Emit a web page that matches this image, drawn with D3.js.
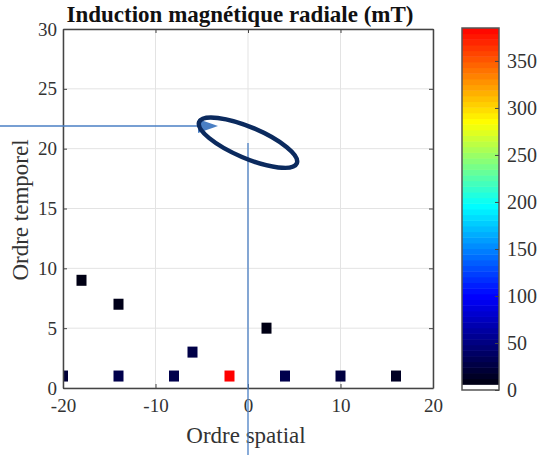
<!DOCTYPE html>
<html><head><meta charset="utf-8">
<script src="https://cdn.jsdelivr.net/npm/d3@7"></script>
<style>body{margin:0;background:#fff}svg{display:block}text{font-family:"Liberation Serif","Times New Roman",serif}</style>
</head><body>
<svg id="c" width="539" height="455"></svg>
<script>
// ---- data ----
const spatialOrder = [-20, -14, -8, -2, 4, 10, 16, -18, -14, -6, 2];
const temporalOrder = [1, 1, 1, 1, 1, 1, 1, 9, 7, 3, 5];
const inductionMT = [22, 30, 30, 385, 30, 25, 14, 8, 10, 28, 8];
const xTicks = [-20, -10, 0, 10, 20];
const yTicks = [0, 5, 10, 15, 20, 25, 30];
const cbTicks = [0, 50, 100, 150, 200, 250, 300, 350];
const cbMax = 385;
const cmapStops = [0, 0.26, 0.51, 0.74, 1];
const cmapColors = ["#000000", "#0000ff", "#00ffff", "#ffff00", "#ff0000"];

const svg = d3.select("#c");
const L = 63, R = 433, T = 29, B = 388;
const x = d3.scaleLinear().domain([-20, 20]).range([L, R]);
const y = d3.scaleLinear().domain([0, 30]).range([B, T]);
const cmap = d3.scaleLinear().domain(cmapStops).range(cmapColors).interpolate(d3.interpolateRgb);
const color = v => cmap(Math.min(1, v / cbMax));

// grid
const g = svg.append("g");
g.selectAll(".gx").data(xTicks).join("line").attr("x1", d => x(d)).attr("x2", d => x(d))
  .attr("y1", T).attr("y2", B).attr("stroke", "#e3e3e3").attr("stroke-width", 1);
g.selectAll(".gy").data(yTicks).join("line").attr("y1", d => y(d)).attr("y2", d => y(d))
  .attr("x1", L).attr("x2", R).attr("stroke", "#e3e3e3").attr("stroke-width", 1);

// squares
svg.append("clipPath").attr("id", "pc").append("rect").attr("x", L).attr("y", T).attr("width", R - L).attr("height", B - T);
svg.append("g").attr("clip-path", "url(#pc)").selectAll("rect").data(spatialOrder.map((s, i) => ({s, t: temporalOrder[i], v: inductionMT[i]})))
  .join("rect").attr("x", d => x(d.s) - 5).attr("y", d => y(d.t) - 5.5).attr("width", 10).attr("height", 11)
  .attr("fill", d => color(d.v));

// axes
const fs = 19;
const axB = svg.append("g").attr("transform", `translate(0,${B})`).call(d3.axisBottom(x).tickValues(xTicks).tickSizeInner(-4).tickSizeOuter(0).tickPadding(11));
const axT = svg.append("g").attr("transform", `translate(0,${T})`).call(d3.axisTop(x).tickValues(xTicks).tickSizeInner(-4).tickSizeOuter(0).tickFormat(""));
const axL = svg.append("g").attr("transform", `translate(${L},0)`).call(d3.axisLeft(y).tickValues(yTicks).tickSizeInner(-4).tickSizeOuter(0).tickPadding(6));
const axR = svg.append("g").attr("transform", `translate(${R},0)`).call(d3.axisRight(y).tickValues(yTicks).tickSizeInner(-4).tickSizeOuter(0).tickFormat(""));
[axB, axT, axL, axR].forEach(a => {
  a.select(".domain").attr("stroke", "#444").attr("stroke-width", 1.5);
  a.selectAll(".tick line").attr("stroke", "#444");
  a.selectAll("text").attr("font-size", fs).attr("fill", "#333").attr("font-family", "Liberation Serif");
});
axB.selectAll("text").text(d => d < 0 ? "-" + Math.abs(d) : d);

// labels
svg.append("text").attr("x", 240).attr("y", 22).attr("text-anchor", "middle").attr("font-weight", "bold")
  .attr("font-size", 23).attr("fill", "#111").text("Induction magnétique radiale (mT)");
svg.append("text").attr("x", 246).attr("y", 443).attr("text-anchor", "middle").attr("font-size", 23).attr("fill", "#333").text("Ordre spatial");
svg.append("text").attr("transform", "translate(28,210) rotate(-90)").attr("text-anchor", "middle").attr("font-size", 23).attr("fill", "#333").text("Ordre temporel");

// annotations
const blue = "#4a7fc4";
svg.append("line").attr("x1", 0).attr("x2", 200).attr("y1", 126).attr("y2", 126).attr("stroke", blue).attr("stroke-width", 1.3);
svg.append("path").attr("d", "M198,119 L218,126 L198,133 Z").attr("fill", blue);
svg.append("line").attr("x1", x(0)).attr("x2", x(0)).attr("y1", 143).attr("y2", 455).attr("stroke", blue).attr("stroke-width", 1.3);
svg.append("ellipse").attr("cx", x(0)).attr("cy", y(20.5)).attr("rx", 53).attr("ry", 15.5)
  .attr("transform", `rotate(23,${x(0)},${y(20.5)})`).attr("fill", "none").attr("stroke", "#0b2a5e").attr("stroke-width", 4.5);

// colorbar
const cbL = 462, cbR = 499, cbT = 28, cbB = 390;
const cy = d3.scaleLinear().domain([0, cbMax]).range([cbB, cbT]);
const nLev = 64;
const lev = d3.range(nLev);
svg.append("g").selectAll("rect").data(lev).join("rect")
  .attr("x", cbL).attr("width", cbR - cbL)
  .attr("y", i => cy((i + 1) * cbMax / nLev)).attr("height", i => cy(i * cbMax / nLev) - cy((i + 1) * cbMax / nLev) + 0.5)
  .attr("fill", i => i === 0 ? "#ffffff" : color((i + 0.5) * cbMax / nLev));
svg.append("rect").attr("x", cbL).attr("y", cbT).attr("width", cbR - cbL).attr("height", cbB - cbT).attr("fill", "none").attr("stroke", "#555").attr("stroke-width", 1.5);
const cbAx = svg.append("g").attr("transform", `translate(${cbR},0)`).call(d3.axisRight(cy).tickValues(cbTicks).tickSizeInner(-4).tickSizeOuter(0).tickPadding(8));
cbAx.select(".domain").remove();
cbAx.selectAll(".tick line").attr("stroke", "#444");
cbAx.selectAll("text").attr("font-size", 20).attr("fill", "#333").attr("font-family", "Liberation Serif");
</script>
</body></html>
